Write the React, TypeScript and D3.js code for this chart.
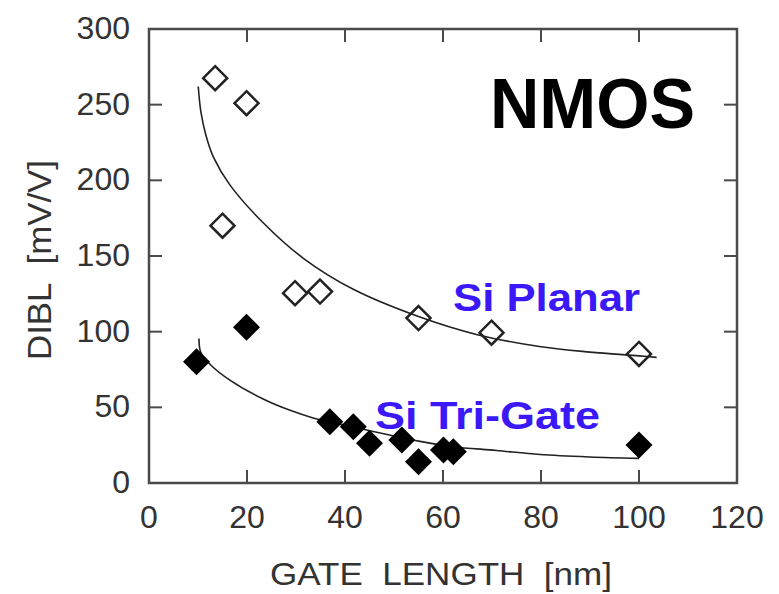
import React from "react";
import * as d3 from "d3";

const xTicks = [0, 20, 40, 60, 80, 100, 120];
const yTicks = [0, 50, 100, 150, 200, 250, 300];

const planarL = [13.5, 19.9, 15, 29.8, 34.9, 55, 69.9, 100];
const planarDIBL = [267.5, 251, 170, 125.4, 126.5, 109, 99.3, 85.3];

const trigateL = [9.7, 19.9, 36.9, 41.7, 45, 51.6, 55, 60.1, 62.1, 100];
const trigateDIBL = [80.2, 102.9, 40.5, 37.2, 26.2, 28.4, 14.1, 21.8, 20.7, 25.1];

const planarFitL = [10.05, 10.6, 11.6, 13.2, 16.5, 23.3, 31.5, 41.7, 55, 67, 80, 90, 100, 103.6];
const planarFitDIBL = [262, 245, 230, 215, 197, 172, 148.5, 128, 110, 98, 90, 86.5, 84, 83];

const trigateFitL = [10.2, 10.6, 12.6, 16.5, 23.3, 28.8, 33.5, 41.7, 50, 55.3, 62, 70.9, 79.8, 90, 100];
const trigateFitDIBL = [95.5, 86, 78, 68, 55.5, 48, 43, 37, 31, 27.5, 24, 21.5, 18.8, 17.2, 16.3];

const W = 779;
const H = 594;
const left = 149, right = 737, top = 29, bottom = 483;

export default function App() {
  const x = d3.scaleLinear().domain([0, 120]).range([left, right]);
  const y = d3.scaleLinear().domain([0, 300]).range([bottom, top]);
  const line = d3
    .line<[number, number]>()
    .x((d) => x(d[0]))
    .y((d) => y(d[1]))
    .curve(d3.curveCatmullRom.alpha(0.5));

  const planarFit = planarFitL.map((l, i) => [l, planarFitDIBL[i]] as [number, number]);
  const trigateFit = trigateFitL.map((l, i) => [l, trigateFitDIBL[i]] as [number, number]);

  const diamond = (cx: number, cy: number, r: number) =>
    `M${cx},${cy - r}L${cx + r},${cy}L${cx},${cy + r}L${cx - r},${cy}Z`;

  const tickLen = 13;
  const axisColor = "#4a4a4a";
  const labelColor = "#333";
  const blue = "#3a18f8";
  const font = "Liberation Sans, Arial, Helvetica, sans-serif";

  return (
    <svg
      width={W}
      height={H}
      style={{ position: "absolute", left: 0, top: 0, background: "#fff" }}
      fontFamily={font}
    >
      <rect x={0} y={0} width={W} height={H} fill="#fff" />
      {/* frame */}
      <rect
        x={left}
        y={top}
        width={right - left}
        height={bottom - top}
        fill="none"
        stroke={axisColor}
        strokeWidth={2.5}
      />
      {/* x ticks */}
      {xTicks.slice(1, -1).map((t) => (
        <g key={"xt" + t}>
          <line x1={x(t)} x2={x(t)} y1={bottom} y2={bottom - tickLen} stroke={axisColor} strokeWidth={2} />
          <line x1={x(t)} x2={x(t)} y1={top} y2={top + tickLen} stroke={axisColor} strokeWidth={2} />
        </g>
      ))}
      {yTicks.slice(1, -1).map((t) => (
        <g key={"yt" + t}>
          <line x1={left} x2={left + tickLen} y1={y(t)} y2={y(t)} stroke={axisColor} strokeWidth={2} />
          <line x1={right} x2={right - tickLen} y1={y(t)} y2={y(t)} stroke={axisColor} strokeWidth={2} />
        </g>
      ))}
      {/* tick labels */}
      {xTicks.map((t) => (
        <text key={"xl" + t} x={x(t)} y={bottom + 45} textAnchor="middle" fontSize={32} fill={labelColor}>
          {t}
        </text>
      ))}
      {yTicks.map((t) => (
        <text key={"yl" + t} x={130} y={y(t) + 10} textAnchor="end" fontSize={32} fill={labelColor}>
          {t}
        </text>
      ))}
      {/* axis titles */}
      <text
        x={441}
        y={585}
        textAnchor="middle"
        fontSize={31}
        fill={labelColor}
        textLength={342}
        lengthAdjust="spacingAndGlyphs"
        style={{ whiteSpace: "pre" }}
      >
        {"GATE  LENGTH  [nm]"}
      </text>
      <text
        transform="translate(51,260) rotate(-90)"
        textAnchor="middle"
        fontSize={33}
        fill={labelColor}
        textLength={200}
        lengthAdjust="spacingAndGlyphs"
        style={{ whiteSpace: "pre" }}
      >
        {"DIBL  [mV/V]"}
      </text>
      {/* fit curves */}
      <path d={line(planarFit) || ""} fill="none" stroke="#222" strokeWidth={1.6} />
      <path d={line(trigateFit) || ""} fill="none" stroke="#222" strokeWidth={1.6} />
      {/* points */}
      {planarL.map((l, i) => (
        <path
          key={"p" + i}
          d={diamond(x(l), y(planarDIBL[i]), 12)}
          fill="none"
          stroke="#222"
          strokeWidth={2.5}
        />
      ))}
      {trigateL.map((l, i) => (
        <path key={"t" + i} d={diamond(x(l), y(trigateDIBL[i]), 13.5)} fill="#000" />
      ))}
      {/* labels */}
      <text
        x={490}
        y={128}
        fontSize={71}
        fontWeight="bold"
        fill="#000"
        textLength={205}
        lengthAdjust="spacingAndGlyphs"
      >
        NMOS
      </text>
      <text
        x={453}
        y={311}
        fontSize={39}
        fontWeight="bold"
        fill={blue}
        textLength={187}
        lengthAdjust="spacingAndGlyphs"
      >
        Si Planar
      </text>
      <text
        x={375}
        y={429}
        fontSize={39}
        fontWeight="bold"
        fill={blue}
        textLength={225}
        lengthAdjust="spacingAndGlyphs"
      >
        Si Tri-Gate
      </text>
    </svg>
  );
}
